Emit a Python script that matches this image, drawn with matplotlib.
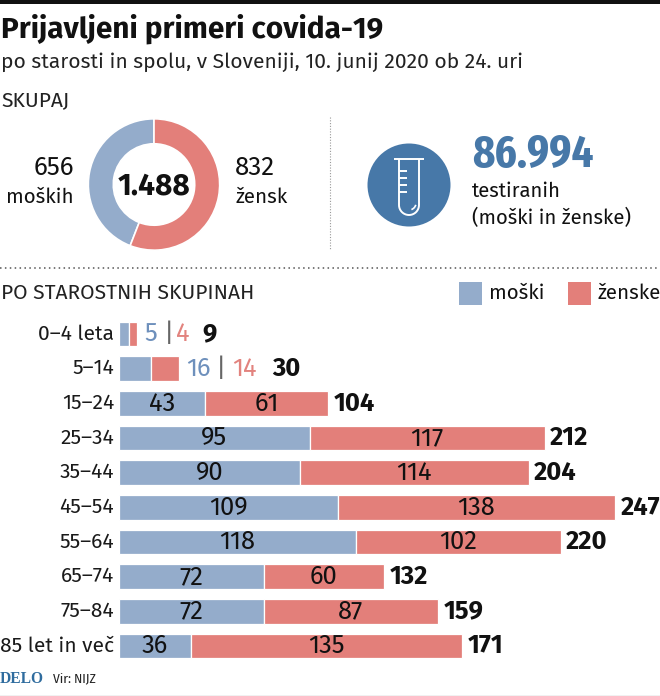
import matplotlib
matplotlib.use("Agg")
import matplotlib.pyplot as plt
from matplotlib.patches import Circle, Rectangle, Arc

groups = ["0–4 leta", "5–14", "15–24", "25–34", "35–44", "45–54", "55–64", "65–74", "75–84", "85 let in več"]
men = [5, 16, 43, 95, 90, 109, 118, 72, 72, 36]
women = [4, 14, 61, 117, 114, 138, 102, 60, 87, 135]
totals = [9, 30, 104, 212, 204, 247, 220, 132, 159, 171]
sum_men = 656
sum_women = 832
sum_all = "1.488"
tested = "86.994"

BLUE = "#94ACCB"
RED = "#E37F7A"
DEEP = "#4778A8"
INK = "#111111"
plt.rcParams["font.family"] = ["Fira Sans", "Open Sans", "DejaVu Sans"]
COND = ["Fira Sans Condensed", "Roboto Condensed", "Roboto", "DejaVu Sans"]
XCOND = ["Fira Sans Extra Condensed", "Roboto Condensed", "Roboto", "DejaVu Sans"]

W, H = 660, 696
fig = plt.figure(figsize=(W / 100, H / 100), dpi=100, facecolor="white")

bg = fig.add_axes([0, 0, 1, 1])
bg.set_xlim(0, W)
bg.set_ylim(H, 0)
bg.axis("off")


def pt(px):
    return px * 0.72


def label(x, y, s, size=20, color=INK, weight="normal", ha="left", family=None):
    kw = {"family": family} if family else {}
    return bg.text(x, y, s, fontsize=pt(size), color=color, weight=weight, ha=ha, va="center", **kw)


bg.add_patch(Rectangle((0, 0), W, 4, color="#111111", lw=0))
label(1, 29, "Prijavljeni primeri covida-19", 29.7, weight="bold")
label(1, 62, "po starosti in spolu, v Sloveniji, 10. junij 2020 ob 24. uri", 21, color="#222222")
label(1, 100, "SKUPAJ", 21, color="#222222")
bg.plot([0, W], [268, 268], color="#555555", lw=1.1, ls=(0, (1, 2.2)))
bg.plot([330, 330], [117, 250], color="#999999", lw=0.8, ls=(0, (1, 1.5)))
bg.plot([0, W], [695.5, 695.5], color="#bbbbbb", lw=1)

# Donut
dax = fig.add_axes([(154 - 66) / W, 1 - (184.5 + 66) / H, 132 / W, 132 / H])
dax.pie([sum_men, sum_women], colors=[BLUE, RED], startangle=90, radius=1,
        wedgeprops=dict(width=0.38, edgecolor="white", linewidth=1.2))
dax.set_xlim(-1.005, 1.005)
dax.set_ylim(-1.005, 1.005)
label(74, 168, str(sum_men), 26, ha="right")
label(74, 197, "moških", 20.5, ha="right")
label(235, 168, str(sum_women), 26)
label(235, 197, "žensk", 20.5)
label(154, 186, sum_all, 30, weight="bold", ha="center")

# Test tube icon
bg.add_patch(Circle((409, 185), 41.5, color=DEEP, lw=0))
tube = dict(color="white", lw=1.4, solid_capstyle="butt")
bg.plot([394, 424], [159, 159], **tube)
bg.plot([399, 399], [159, 205], **tube)
bg.plot([419, 419], [159, 205], **tube)
bg.add_patch(Arc((409, 205), 20, 20, theta1=0, theta2=180, color="white", lw=1.4))
for y in [171, 178, 185, 192]:
    bg.plot([399, 407], [y, y], **tube)
bg.add_patch(Arc((409, 203), 14, 14, theta1=15, theta2=70, color="white", lw=1.2))

label(472, 155, tested, 46, color=DEEP, weight="bold", family=XCOND)
label(472, 191, "testiranih", 20.3)
label(472, 218, "(moški in ženske)", 20.3)

# Legend
label(1, 293, "PO STAROSTNIH SKUPINAH", 21, color="#222222")
bg.add_patch(Rectangle((459, 282), 23, 23, color=BLUE, lw=0))
label(489, 293, "moški", 20.5)
bg.add_patch(Rectangle((568, 282), 23, 23, color=RED, lw=0))
label(597, 293, "ženske", 20.5)

# Bars: axes in data units, 2.008 px per case, 34.65 px per row
SCALE = 2.008
ROW = 34.65
x0 = 119
top = 334 - ROW / 2
bottom = 646 + ROW / 2
ax = fig.add_axes([x0 / W, 1 - bottom / H, (W - x0) / W, (bottom - top) / H])
ax.set_xlim(0, (W - x0) / SCALE)
ax.set_ylim(len(groups) - 0.5, -0.5)
ax.axis("off")
ypos = list(range(len(groups)))
barh = 24.5 / ROW
ax.barh(ypos, men, height=barh, color=BLUE, edgecolor="white", linewidth=0.9)
ax.barh(ypos, women, left=men, height=barh, color=RED, edgecolor="white", linewidth=0.9)


def note(x, y, s, dx, color=INK, weight="normal", size=25.5, ha="left"):
    ax.annotate(s, (x, y), xytext=(pt(dx), 0), textcoords="offset points", fontsize=pt(size),
                color=color, weight=weight, ha=ha, va="center", annotation_clip=False)


for i, g in enumerate(groups):
    ax.annotate(g, (0, i), xytext=(pt(-5), 0), textcoords="offset points", fontsize=pt(21),
                color="#1a1a1a", ha="right", va="center", annotation_clip=False)
    if men[i] >= 30:
        ax.text(men[i] / 2, i, str(men[i]), fontsize=pt(25.5), color=INK, ha="center", va="center")
        ax.text(men[i] + women[i] / 2, i, str(women[i]), fontsize=pt(25.5), color=INK, ha="center", va="center")
        note(totals[i], i, str(totals[i]), 5.5, weight="bold")

# The two small groups carry their values outside the bar
MALE_TXT, FEMALE_TXT = "#6E90BC", "#E2837E"
note(totals[0], 0, str(men[0]), 14, MALE_TXT, ha="center")
note(totals[0], 0, "|", 32, "#666666", ha="center")
note(totals[0], 0, str(women[0]), 46, FEMALE_TXT, ha="center")
note(totals[0], 0, str(totals[0]), 72, weight="bold", ha="center")
note(totals[1], 1, str(men[1]), 19, MALE_TXT, ha="center")
note(totals[1], 1, "|", 42, "#666666", ha="center")
note(totals[1], 1, str(women[1]), 65, FEMALE_TXT, ha="center")
note(totals[1], 1, str(totals[1]), 107, weight="bold", ha="center")

# Footer
label(0, 679, "DELO", 15.5, color="#2F6C9E", weight="bold", family="Liberation Serif")
label(53, 679, "Vir: NIJZ", 13.5, color="#222222", family=COND)

fig.savefig("out.png", dpi=100, facecolor="white")
